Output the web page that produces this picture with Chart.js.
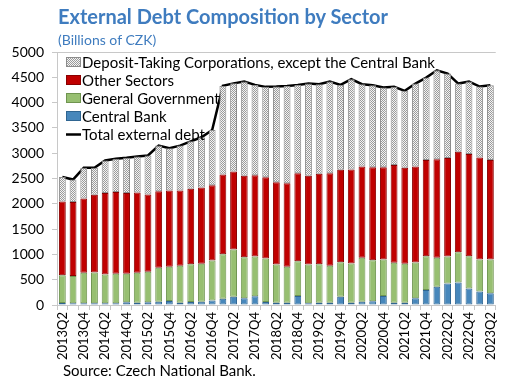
<!DOCTYPE html>
<html>
<head>
<meta charset="utf-8">
<script src="https://cdn.jsdelivr.net/npm/chart.js@4"></script>
<style>
    html, body { margin: 0; padding: 0; background: #fff; }
    #wrap { position: relative; width: 508px; height: 381px; overflow: hidden; font-family: Lato, sans-serif; }
    #chart { position: absolute; left: 0; top: 0; }
    .title { position: absolute; left: 58px; top: 4px; font-size: 20px; font-weight: bold; color: #3f7cbf; white-space: nowrap; }
    .subtitle { position: absolute; left: 58px; top: 31px; font-size: 14px; color: #3f7cbf; white-space: nowrap; }
    .source { position: absolute; left: 63px; top: 361px; font-size: 15px; color: #000; white-space: nowrap; }
</style>
</head>
<body>
<div id="wrap">
    <canvas id="chart" width="508" height="381"></canvas>
    <div class="title">External Debt Composition by Sector</div>
    <div class="subtitle">(Billions of CZK)</div>
    <div class="source">Source: Czech National Bank.</div>
</div>
<script>
const quarters = [];
for (let y = 2013; y <= 2023; y++) {
    for (let q = 1; q <= 4; q++) {
        if ((y === 2013 && q < 2) || (y === 2023 && q > 2)) continue;
        quarters.push(y + 'Q' + q);
    }
}

const centralBank = [40, 33, 33, 33, 33, 33, 53, 45, 53, 66, 79, 45, 59, 66, 90, 125, 164, 135, 175, 59, 45,
    45, 177, 33, 45, 45, 164, 45, 66, 72, 177, 45, 45, 131, 295, 361, 427, 446, 328, 269, 230];
const generalGov = [550, 538, 603, 610, 571, 584, 564, 591, 603, 669, 676, 729, 748, 747, 789, 879, 932, 810, 783, 860, 756,
    710, 689, 768, 762, 729, 682, 775, 866, 814, 722, 788, 768, 709, 670, 571, 531, 597, 637, 630, 669];
const otherSectors = [1457, 1463, 1470, 1535, 1607, 1614, 1594, 1588, 1529, 1515, 1509, 1490, 1490, 1510, 1490, 1575, 1542, 1608, 1608, 1607, 1627,
    1653, 1739, 1752, 1785, 1831, 1825, 1857, 1804, 1837, 1824, 1936, 1897, 1896, 1903, 1949, 1949, 1988, 2021, 2014, 1969];
const depositTaking = [483, 446, 604, 532, 644, 659, 699, 711, 770, 900, 836, 886, 938, 992, 1091, 1751, 1742, 1862, 1784, 1785, 1889,
    1922, 1745, 1823, 1771, 1810, 1679, 1785, 1627, 1621, 1574, 1542, 1522, 1640, 1626, 1758, 1666, 1345, 1429, 1404, 1476];
const totalDebt = [2530, 2480, 2710, 2710, 2855, 2890, 2910, 2935, 2955, 3150, 3100, 3150, 3235, 3315, 3460, 4330, 4380, 4415, 4350, 4311, 4317,
    4330, 4350, 4376, 4363, 4415, 4350, 4462, 4363, 4344, 4297, 4311, 4232, 4376, 4494, 4639, 4573, 4376, 4415, 4317, 4344];

const yTicks = [0, 500, 1000, 1500, 2000, 2500, 3000, 3500, 4000, 4500, 5000];

function makeDots() {
    const c = document.createElement('canvas');
    c.width = 2; c.height = 2;
    const g = c.getContext('2d');
    g.fillStyle = '#f4f4f4';
    g.fillRect(0, 0, 2, 2);
    g.fillStyle = '#9a9a9a';
    g.fillRect(0, 0, 1, 1);
    g.fillRect(1, 1, 1, 1);
    return g.createPattern(c, 'repeat');
}
const dots = makeDots();

const frame = {
    id: 'frame',
    beforeDatasetsDraw(chart) {
        const { ctx, chartArea: a } = chart;
        ctx.save();
        ctx.strokeStyle = '#c8c8c8';
        ctx.lineWidth = 1;
        ctx.beginPath();
        ctx.moveTo(a.left + 0.5, a.bottom);
        ctx.lineTo(a.left + 0.5, a.top + 0.5);
        ctx.lineTo(a.right, a.top + 0.5);
        ctx.stroke();
        ctx.restore();
    },
    afterDraw(chart) {
        const ctx = chart.ctx;
        const order = [3, 2, 1, 0, 4];
        ctx.save();
        ctx.font = '15px Lato';
        ctx.textBaseline = 'middle';
        order.forEach((di, row) => {
            const ds = chart.data.datasets[di];
            const y = 62 + row * 18;
            if (ds.type === 'line') {
                ctx.strokeStyle = '#000';
                ctx.lineWidth = 2.5;
                ctx.beginPath();
                ctx.moveTo(66, y + 0.5);
                ctx.lineTo(81, y + 0.5);
                ctx.stroke();
            } else {
                ctx.fillStyle = ds.backgroundColor;
                ctx.fillRect(66, y - 5, 15, 10);
                ctx.strokeStyle = ds.borderColor;
                ctx.lineWidth = 1;
                ctx.strokeRect(66.5, y - 4.5, 14, 9);
            }
            ctx.fillStyle = '#000';
            ctx.fillText(ds.label, 82, y + 1);
        });
        ctx.restore();
    }
};

new Chart(document.getElementById('chart'), {
    data: {
        labels: quarters,
        datasets: [
            { type: 'bar', label: 'Central Bank', data: centralBank, backgroundColor: '#4787bb', borderColor: '#2f6591', borderWidth: 1 },
            { type: 'bar', label: 'General Government', data: generalGov, backgroundColor: '#97bf71', borderColor: '#6f9450', borderWidth: 1 },
            { type: 'bar', label: 'Other Sectors', data: otherSectors, backgroundColor: '#c00000', borderColor: '#8a0000', borderWidth: 1 },
            { type: 'bar', label: 'Deposit-Taking Corporations, except the Central Bank', data: depositTaking, backgroundColor: dots, borderColor: '#8c8c8c', borderWidth: 1 },
            { type: 'line', label: 'Total external debt', data: totalDebt, stack: 'total', borderColor: '#000', borderWidth: 2.5, pointRadius: 0, tension: 0, fill: false }
        ]
    },
    options: {
        responsive: false,
        animation: false,
        layout: { padding: { top: 52, left: 0, right: 1, bottom: 0 } },
        datasets: { bar: { barPercentage: 0.64, categoryPercentage: 1, borderSkipped: false } },
        plugins: { legend: { display: false }, tooltip: { enabled: false } },
        scales: {
            x: {
                stacked: true,
                afterFit(s) { s.height = 76; },
                grid: { offset: true, drawOnChartArea: false, tickLength: 5, color: '#c8c8c8' },
                border: { color: '#c8c8c8' },
                ticks: {
                    autoSkip: false, maxRotation: 90, minRotation: 90, padding: 2,
                    color: '#000', font: { family: 'Lato', size: 13 },
                    callback(v, i) { return i % 2 === 0 ? quarters[i] : ''; }
                }
            },
            y: {
                stacked: true,
                min: 0, max: 5000,
                afterFit(s) { s.width = 57; },
                afterBuildTicks(s) { s.ticks = yTicks.map(v => ({ value: v })); },
                grid: { drawOnChartArea: false, tickLength: 5, color: '#c8c8c8' },
                border: { color: '#c8c8c8' },
                ticks: { color: '#000', padding: 8, font: { family: 'Lato', size: 14 }, callback: v => String(v) }
            }
        }
    },
    plugins: [frame]
});
</script>
</body>
</html>
